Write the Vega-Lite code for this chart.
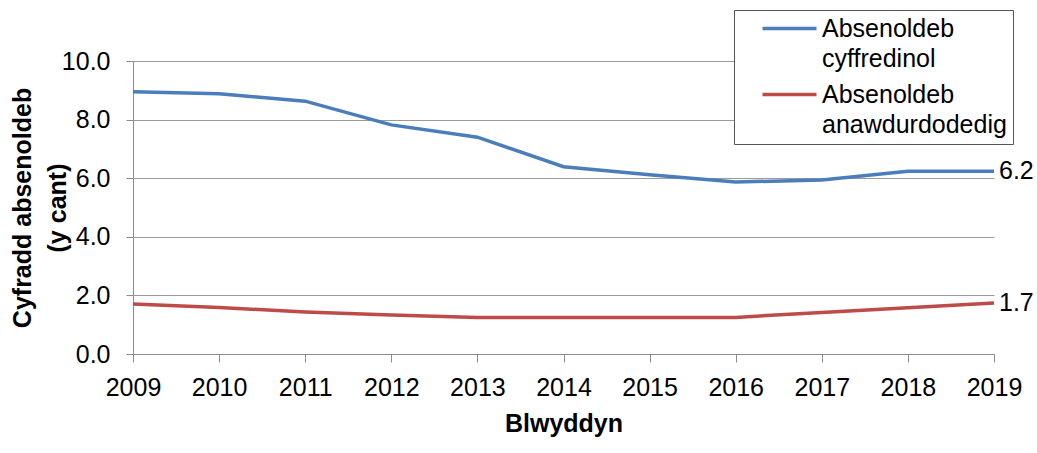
{
  "$schema": "https://vega.github.io/schema/vega-lite/v6.json",
  "width": 861,
  "height": 293,
  "autosize": {"type": "none"},
  "padding": {"left": 133, "top": 61, "right": 43, "bottom": 99},
  "background": "white",
  "config": {
    "view": {"stroke": null},
    "font": "Liberation Sans",
    "style": {"guide-label": {"lineHeight": 30}}
  },
  "data": {
    "values": [
      {"year": 2009, "series": "Absenoldeb cyffredinol", "value": 8.95},
      {"year": 2010, "series": "Absenoldeb cyffredinol", "value": 8.88},
      {"year": 2011, "series": "Absenoldeb cyffredinol", "value": 8.63},
      {"year": 2012, "series": "Absenoldeb cyffredinol", "value": 7.82},
      {"year": 2013, "series": "Absenoldeb cyffredinol", "value": 7.4},
      {"year": 2014, "series": "Absenoldeb cyffredinol", "value": 6.39},
      {"year": 2015, "series": "Absenoldeb cyffredinol", "value": 6.12},
      {"year": 2016, "series": "Absenoldeb cyffredinol", "value": 5.87},
      {"year": 2017, "series": "Absenoldeb cyffredinol", "value": 5.94},
      {"year": 2018, "series": "Absenoldeb cyffredinol", "value": 6.24},
      {"year": 2019, "series": "Absenoldeb cyffredinol", "value": 6.24},
      {"year": 2009, "series": "Absenoldeb anawdurdodedig", "value": 1.71},
      {"year": 2010, "series": "Absenoldeb anawdurdodedig", "value": 1.59},
      {"year": 2011, "series": "Absenoldeb anawdurdodedig", "value": 1.43},
      {"year": 2012, "series": "Absenoldeb anawdurdodedig", "value": 1.33},
      {"year": 2013, "series": "Absenoldeb anawdurdodedig", "value": 1.25},
      {"year": 2014, "series": "Absenoldeb anawdurdodedig", "value": 1.25},
      {"year": 2015, "series": "Absenoldeb anawdurdodedig", "value": 1.25},
      {"year": 2016, "series": "Absenoldeb anawdurdodedig", "value": 1.25},
      {"year": 2017, "series": "Absenoldeb anawdurdodedig", "value": 1.42},
      {"year": 2018, "series": "Absenoldeb anawdurdodedig", "value": 1.58},
      {"year": 2019, "series": "Absenoldeb anawdurdodedig", "value": 1.74}
    ]
  },
  "encoding": {
    "x": {
      "field": "year",
      "type": "quantitative",
      "scale": {"domain": [2009, 2019], "nice": false, "zero": false},
      "axis": {
        "title": "Blwyddyn",
        "values": [2009, 2010, 2011, 2012, 2013, 2014, 2015, 2016, 2017, 2018, 2019],
        "format": "d",
        "grid": false,
        "domainColor": "#8c8c8c",
        "tickColor": "#8c8c8c",
        "tickSize": 8,
        "labelFontSize": 25,
        "labelColor": "#000000",
        "labelPadding": 13,
        "labelFlush": false,
        "labelOverlap": false,
        "titleFontSize": 25,
        "titleFontWeight": "bold",
        "titleColor": "#000000",
        "titlePadding": 11
      }
    },
    "y": {
      "field": "value",
      "type": "quantitative",
      "scale": {"domain": [0, 10], "nice": false},
      "axis": {
        "title": ["Cyfradd absenoldeb", "(y cant)"],
        "values": [0, 2, 4, 6, 8, 10],
        "format": ".1f",
        "grid": true,
        "gridColor": "#9a9a9a",
        "domainColor": "#8c8c8c",
        "tickColor": "#8c8c8c",
        "tickSize": 7,
        "labelFontSize": 25,
        "labelColor": "#000000",
        "labelPadding": 16,
        "titleFontSize": 25,
        "titleFontWeight": "bold",
        "titleColor": "#000000",
        "titleLineHeight": 35,
        "titlePadding": -9
      }
    }
  },
  "layer": [
    {
      "mark": {"type": "line", "strokeWidth": 3.5},
      "encoding": {
        "color": {
          "field": "series",
          "type": "nominal",
          "scale": {
            "domain": ["Absenoldeb cyffredinol", "Absenoldeb anawdurdodedig"],
            "range": ["#4a7ebb", "#be4b48"]
          },
          "legend": {
            "title": null,
            "orient": "none",
            "legendX": 601,
            "legendY": -51,
            "fillColor": "white",
            "strokeColor": "#555555",
            "padding": 6,
            "symbolType": "M-1,0H4.4",
            "symbolSize": 400,
            "symbolStrokeWidth": 3.5,
            "symbolOffset": 20,
            "labelOffset": 37,
            "labelFontSize": 25,
            "labelColor": "#000000",
            "labelLimit": 400,
            "labelBaseline": "middle",
            "rowPadding": 10,
            "labelExpr": "[split(datum.label, ' ')[0], split(datum.label, ' ')[1]]"
          }
        }
      }
    },
    {
      "transform": [{"filter": "datum.year == 2019"}],
      "mark": {"type": "text", "align": "left", "baseline": "middle", "dx": 5, "fontSize": 25, "color": "#000000"},
      "encoding": {
        "text": {"field": "value", "type": "quantitative", "format": ".1f"}
      }
    }
  ]
}
